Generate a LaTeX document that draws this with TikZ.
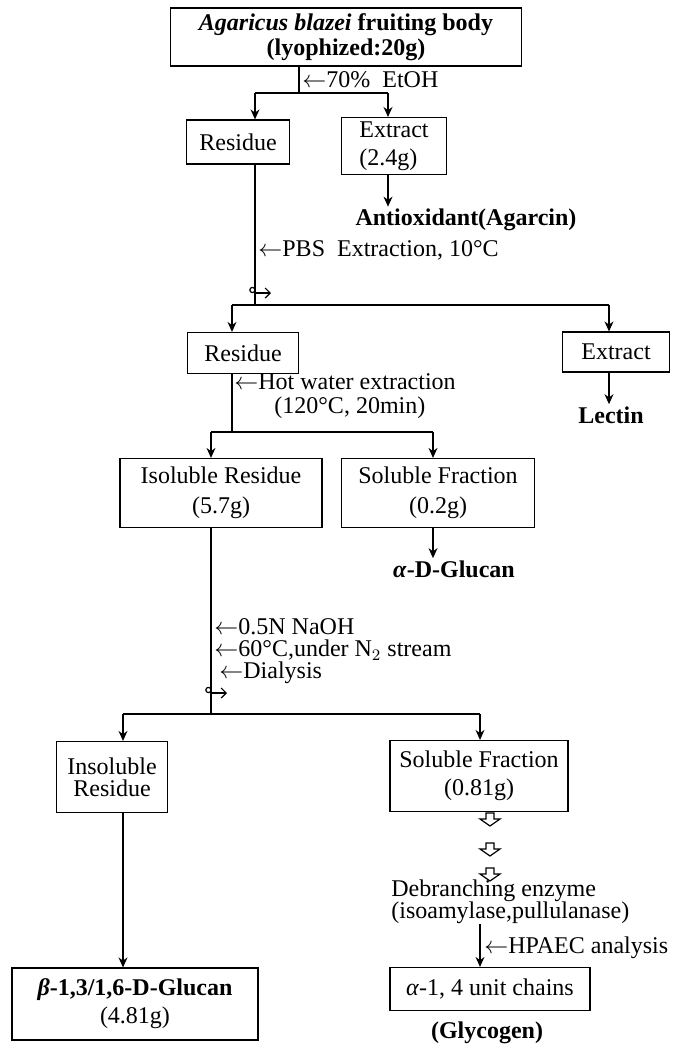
\documentclass[tikz,border=0pt]{standalone}
\usepackage{fontspec}
\setmainfont{Liberation Serif}
\usetikzlibrary{positioning, arrows.meta}

\begin{document}
\begin{tikzpicture}[
  x=0.5pt, y=-0.5pt,
  font=\fontsize{12}{14}\selectfont,
  ln/.style={line width=0.6pt},
  arr/.style={ln, -{Stealth[length=5pt, width=4.5pt]}},
  box/.style={draw, line width=0.6pt, inner sep=2pt, align=center},
  lbl/.style={anchor=west, inner sep=0pt},
  prod/.style={font=\fontsize{12}{14}\selectfont\bfseries, inner sep=1pt},
  sep/.pic={
    \draw[ln] (-2.6,-1) circle[radius=1.3pt];
    \draw[ln, -{Straight Barb[length=2.5pt]}] (0,2) -- (16,2);
  },
  hollow/.pic={
    \draw[ln] (-4,0) -- (-4,6) -- (-10,6) -- (0,13) -- (10,6) -- (4,6) -- (4,0) -- cycle;
  },
]
  \useasboundingbox (0,0) rectangle (684,1044);

  % boxes
  \node[box, font=\fontsize{12}{12.5}\selectfont\bfseries,
        minimum width=175.5pt, minimum height=29pt] (top) at (346,37)
    {\textit{Agaricus blazei} fruiting body\\(lyophized:20g)};
  \node[box, minimum width=51.5pt, minimum height=22pt] (res1) at (238,142) {Residue};
  \node[box, align=left, minimum width=52.5pt, minimum height=26pt] (ext1) at (394,146)
    {Extract\\(2.4g)};
  \node[prod] (ant) at (466,220) {Antioxidant(Agarcin)};

  \node[box, minimum width=55.5pt, minimum height=20.5pt] (res2) at (243,353) {Residue};
  \node[box, minimum width=53.5pt, minimum height=20pt] (ext2) at (616,352) {Extract};
  \node[prod] (lec) at (611,415) {Lectin};

  \node[box, font=\fontsize{12}{15}\selectfont,
        minimum width=101pt, minimum height=34.5pt] (iso) at (221,493)
    {Isoluble Residue\\(5.7g)};
  \node[box, font=\fontsize{12}{15}\selectfont,
        minimum width=96.5pt, minimum height=34.5pt] (sol1) at (438,493)
    {Soluble Fraction\\(0.2g)};
  \node[prod] (aglu) at (454,569) {\textit{α}-D-Glucan};

  \node[box, font=\fontsize{12}{11}\selectfont,
        minimum width=55.5pt, minimum height=35.5pt] (ins) at (112,777)
    {Insoluble\\Residue};
  \node[box, font=\fontsize{12}{14}\selectfont,
        minimum width=89pt, minimum height=35.5pt] (sol2) at (479,776)
    {Soluble Fraction\\(0.81g)};
  \node[lbl, align=left, font=\fontsize{12}{11}\selectfont] (deb) at (391,902)
    {Debranching enzyme\\(isoamylase,pullulanase)};
  \node[box, minimum width=100pt, minimum height=21.5pt] (chains) at (490,989)
    {\textit{α}-1, 4 unit chains};
  \node[prod] (gly) at (487,1033) {(Glycogen)};

  \node[box, font=\fontsize{12}{14}\selectfont,
        minimum width=123pt, minimum height=36pt] (beta) at (135,1004)
    {\textbf{\textit{β}-1,3/1,6-D-Glucan}\\(4.81g)};

  % branch points
  \coordinate (s1) at (299,93);  \coordinate (l1) at (255,93);  \coordinate (r1) at (388,93);
  \coordinate (s2) at (255,305); \coordinate (l2) at (232,305); \coordinate (r2) at (609,305);
  \coordinate (s3) at (232,432); \coordinate (l3) at (211,432); \coordinate (r3) at (433,432);
  \coordinate (s4) at (211,714); \coordinate (l4) at (123,714); \coordinate (r4) at (480,714);

  % step labels
  \node[lbl] (eth) at (302,80) {$\leftarrow$70\%\ \ EtOH};
  \node[lbl] (pbs) at (258,250) {$\leftarrow$PBS\ \ Extraction, 10°C};
  \node[lbl] (hot) at (234,382) {$\leftarrow$Hot water extraction};
  \node[lbl] (hot2) at (274,408) {(120°C, 20min)};
  \node[lbl] (naoh) at (214,627) {$\leftarrow$0.5N NaOH};
  \node[lbl] (temp) at (214,650) {$\leftarrow$60°C,under N$_2$ stream};
  \node[lbl] (dia) at (219,673) {$\leftarrow$Dialysis};
  \node[lbl] (hpa) at (484,948) {$\leftarrow$HPAEC analysis};

  % connectors
  \draw[ln] (top.south -| s1) -- (s1);
  \draw[ln] (l1) -- (r1);
  \draw[arr] (l1) -- (l1 |- res1.north);
  \draw[arr] (r1) -- (r1 |- ext1.north);
  \draw[arr] (ext1.south -| r1) -- (ant.north -| r1);

  \draw[ln] (res1.south -| l1) -- (s2);
  \pic at (255,291) {sep};
  \draw[ln] (l2) -- (r2);
  \draw[arr] (l2) -- (l2 |- res2.north);
  \draw[arr] (r2) -- (r2 |- ext2.north);
  \draw[arr] (ext2.south -| r2) -- (lec.north -| r2);

  \draw[ln] (res2.south -| l2) -- (s3);
  \draw[ln] (l3) -- (r3);
  \draw[arr] (l3) -- (l3 |- iso.north);
  \draw[arr] (r3) -- (r3 |- sol1.north);
  \draw[arr] (sol1.south -| r3) -- (aglu.north -| r3);

  \draw[ln] (iso.south -| l3) -- (s4);
  \pic at (211,691) {sep};
  \draw[ln] (l4) -- (r4);
  \draw[arr] (l4) -- (l4 |- ins.north);
  \draw[arr] (r4) -- (r4 |- sol2.north);
  \draw[arr] (ins.south -| l4) -- (beta.north -| l4);

  \pic at (490,813) {hollow};
  \pic at (490,843) {hollow};
  \pic at (490,868) {hollow};
  \draw[arr] (deb.south -| r4) -- (chains.north -| r4);
\end{tikzpicture}
\end{document}
